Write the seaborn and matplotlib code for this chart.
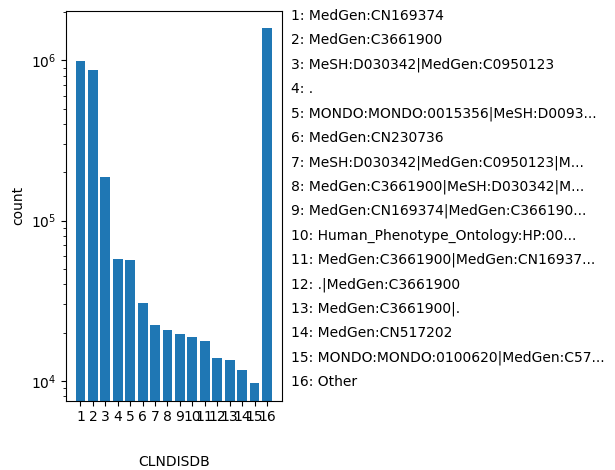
import numpy as np
import pandas as pd
import matplotlib
matplotlib.use("Agg")
import matplotlib.pyplot as plt
import seaborn as sns

""" Data read off the reference """
codes = [str(i) for i in range(1, 17)]
counts = [990000, 866000, 187000, 57400, 56400, 30400, 22200, 20900,
          19500, 18900, 17700, 13800, 13500, 11700, 9700, 1580000]
names = [
    "MedGen:CN169374",
    "MedGen:C3661900",
    "MeSH:D030342|MedGen:C0950123",
    ".",
    "MONDO:MONDO:0015356|MeSH:D0093...",
    "MedGen:CN230736",
    "MeSH:D030342|MedGen:C0950123|M...",
    "MedGen:C3661900|MeSH:D030342|M...",
    "MedGen:CN169374|MedGen:C366190...",
    "Human_Phenotype_Ontology:HP:00...",
    "MedGen:C3661900|MedGen:CN16937...",
    ".|MedGen:C3661900",
    "MedGen:C3661900|.",
    "MedGen:CN517202",
    "MONDO:MONDO:0100620|MedGen:C57...",
    "Other",
]

df = pd.DataFrame({"CLNDISDB": codes, "count": counts})

""" Draw (plain matplotlib look) """
fig = plt.figure(figsize=(6.15, 4.7), dpi=100)
ax = fig.add_axes([0.1068, 0.1474, 0.3513, 0.8298])
ax.set_yscale("log")

sns.barplot(data=df, x="CLNDISDB", y="count", ax=ax, color="#1f77b4",
            saturation=1, width=0.8)

# matplotlib-like 5% margins
n = len(codes)
pad = 0.05 * (n - 1 + 0.8)
ax.set_xlim(-0.4 - pad, n - 1 + 0.4 + pad)
lo, hi = np.log10(min(counts)), np.log10(max(counts))
m = 0.05 * (hi - lo)
ax.set_ylim(10 ** (lo - m), 10 ** (hi + m))

ax.set_xlabel("CLNDISDB", labelpad=22)
ax.set_ylabel("count")

# key on the right
for i, (c, nm) in enumerate(zip(codes, names)):
    fig.text(0.473, 0.966 - i * 0.0519, f"{c}: {nm}", va="center", ha="left",
             fontsize=10)

plt.savefig("out.png", dpi=100)
